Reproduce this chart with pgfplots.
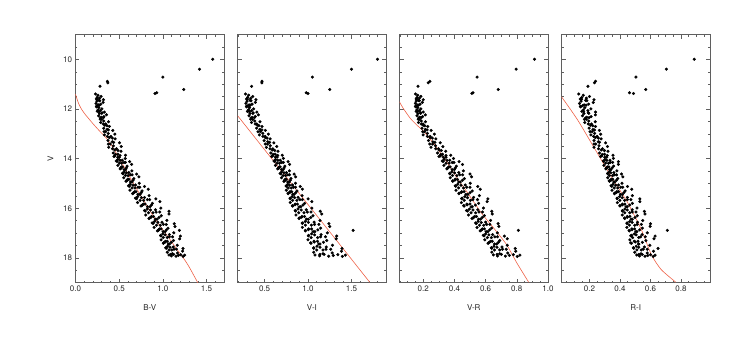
\documentclass[border=0pt]{standalone}
\usepackage{fontspec}
\setmainfont{TeX Gyre Heros}
\usepackage{pgfplots}
\usepackage{pgfplotstable}
\pgfplotsset{compat=1.18}
\definecolor{isored}{RGB}{238,98,72}
\definecolor{framegray}{RGB}{95,95,95}

% stars: V magnitude and the three colours
\pgfplotstableread{
V     BV    VI    VR    RI
9.99  1.570 1.800 0.913 0.887
10.39 1.420 1.500 0.796 0.704
10.71 1.000 1.050 0.545 0.505
11.21 1.240 1.250 0.681 0.569
11.34 0.930 0.980 0.519 0.463
11.37 0.910 1.000 0.512 0.489
10.88 0.365 0.470 0.243 0.240
10.94 0.370 0.468 0.232 0.233
11.08 0.280 0.350 0.167 0.190
16.89 1.190 1.520 0.810 0.710
11.39 0.230 0.280 0.150 0.130
11.44 0.257 0.316 0.165 0.160
11.49 0.293 0.364 0.185 0.200
11.53 0.248 0.304 0.160 0.150
11.56 0.275 0.340 0.175 0.180
11.59 0.239 0.292 0.155 0.140
11.62 0.320 0.400 0.200 0.230
11.65 0.271 0.333 0.170 0.175
11.68 0.244 0.297 0.155 0.145
11.73 0.316 0.393 0.195 0.225
11.77 0.235 0.285 0.150 0.135
11.80 0.289 0.357 0.180 0.195
11.83 0.262 0.321 0.165 0.165
11.86 0.253 0.309 0.160 0.155
11.89 0.240 0.290 0.150 0.140
11.94 0.267 0.326 0.165 0.170
11.99 0.303 0.374 0.185 0.210
12.03 0.258 0.314 0.160 0.160
12.06 0.285 0.350 0.175 0.190
12.09 0.249 0.302 0.155 0.150
12.12 0.330 0.410 0.200 0.240
12.15 0.305 0.368 0.184 0.192
12.18 0.275 0.332 0.166 0.164
12.23 0.355 0.428 0.214 0.239
12.27 0.265 0.320 0.160 0.155
12.30 0.325 0.392 0.196 0.211
12.33 0.295 0.356 0.178 0.183
12.36 0.285 0.344 0.172 0.174
12.41 0.301 0.362 0.176 0.179
12.48 0.323 0.386 0.187 0.196
12.54 0.290 0.350 0.170 0.170
12.60 0.345 0.410 0.198 0.213
12.51 0.378 0.446 0.214 0.238
12.65 0.336 0.420 0.200 0.207
12.70 0.388 0.470 0.229 0.240
12.77 0.323 0.408 0.192 0.198
12.82 0.362 0.445 0.214 0.223
12.86 0.427 0.508 0.251 0.265
12.91 0.345 0.453 0.209 0.218
12.98 0.375 0.479 0.227 0.234
13.04 0.330 0.440 0.200 0.210
13.10 0.405 0.505 0.245 0.250
13.01 0.450 0.544 0.272 0.274
13.15 0.388 0.508 0.244 0.239
13.20 0.454 0.564 0.281 0.277
13.27 0.372 0.494 0.234 0.230
13.32 0.421 0.536 0.262 0.258
13.36 0.504 0.606 0.309 0.306
13.41 0.398 0.535 0.260 0.241
13.48 0.434 0.565 0.279 0.263
13.54 0.380 0.520 0.250 0.230
13.60 0.470 0.595 0.298 0.285
13.51 0.524 0.640 0.326 0.318
13.65 0.450 0.588 0.302 0.277
13.70 0.520 0.654 0.345 0.321
13.77 0.433 0.572 0.291 0.266
13.82 0.485 0.621 0.323 0.299
13.86 0.573 0.704 0.377 0.354
13.89 0.450 0.590 0.310 0.280
13.94 0.501 0.644 0.346 0.313
13.99 0.569 0.716 0.394 0.357
14.03 0.484 0.626 0.334 0.302
14.06 0.535 0.680 0.370 0.335
14.09 0.467 0.608 0.322 0.291
14.12 0.620 0.770 0.430 0.390
14.15 0.555 0.697 0.386 0.337
14.18 0.503 0.643 0.346 0.306
14.23 0.643 0.787 0.452 0.390
14.27 0.485 0.625 0.333 0.295
14.30 0.590 0.733 0.412 0.358
14.33 0.538 0.679 0.373 0.327
14.36 0.520 0.661 0.359 0.316
14.39 0.520 0.660 0.355 0.310
14.44 0.574 0.714 0.399 0.340
14.49 0.646 0.786 0.457 0.380
14.53 0.556 0.696 0.384 0.330
14.56 0.610 0.750 0.428 0.360
14.59 0.538 0.678 0.370 0.320
14.62 0.700 0.840 0.500 0.410
14.65 0.630 0.767 0.434 0.364
14.68 0.572 0.713 0.388 0.331
14.73 0.726 0.857 0.510 0.419
14.77 0.553 0.695 0.373 0.320
14.80 0.668 0.803 0.464 0.386
14.83 0.611 0.749 0.419 0.353
14.86 0.591 0.731 0.403 0.342
14.89 0.585 0.730 0.390 0.330
14.94 0.647 0.784 0.438 0.366
14.99 0.729 0.856 0.502 0.414
15.03 0.626 0.766 0.422 0.354
15.06 0.688 0.820 0.470 0.390
15.09 0.606 0.748 0.406 0.342
15.12 0.790 0.910 0.550 0.450
15.15 0.716 0.832 0.479 0.405
15.18 0.646 0.771 0.427 0.362
15.23 0.832 0.935 0.566 0.477
15.27 0.623 0.750 0.410 0.348
15.30 0.762 0.873 0.514 0.434
15.33 0.693 0.812 0.462 0.391
15.36 0.669 0.791 0.445 0.377
15.39 0.660 0.770 0.430 0.365
15.44 0.738 0.839 0.486 0.415
15.49 0.842 0.931 0.560 0.481
15.53 0.712 0.816 0.467 0.398
15.56 0.790 0.885 0.523 0.448
15.59 0.686 0.793 0.449 0.382
15.62 0.920 1.000 0.615 0.530
15.65 0.824 0.905 0.518 0.448
15.68 0.739 0.823 0.463 0.399
15.73 0.967 1.043 0.610 0.530
15.77 0.710 0.795 0.445 0.383
15.80 0.881 0.960 0.555 0.481
15.83 0.796 0.878 0.500 0.432
15.86 0.767 0.850 0.482 0.416
15.89 0.760 0.820 0.460 0.400
15.94 0.853 0.916 0.514 0.448
15.99 0.977 1.044 0.586 0.512
16.03 0.822 0.884 0.496 0.432
16.06 0.915 0.980 0.550 0.480
16.09 0.791 0.852 0.478 0.416
16.12 1.070 1.140 0.640 0.560
16.15 0.923 0.992 0.558 0.481
16.18 0.835 0.893 0.507 0.432
16.23 1.071 1.157 0.643 0.564
16.27 0.805 0.860 0.490 0.415
16.30 0.982 1.058 0.592 0.514
16.33 0.894 0.959 0.541 0.465
16.36 0.864 0.926 0.524 0.448
16.39 0.850 0.900 0.520 0.430
16.44 0.934 1.002 0.568 0.481
16.49 1.046 1.138 0.632 0.549
16.53 0.906 0.968 0.552 0.464
16.56 0.990 1.070 0.600 0.515
16.59 0.878 0.934 0.536 0.447
16.62 1.130 1.240 0.680 0.600
16.65 1.006 1.075 0.607 0.513
16.68 0.927 0.970 0.561 0.462
16.73 1.139 1.250 0.685 0.598
16.77 0.900 0.935 0.545 0.445
16.80 1.059 1.145 0.638 0.547
16.83 0.980 1.040 0.592 0.496
16.86 0.953 1.005 0.576 0.479
16.89 0.950 0.970 0.570 0.460
16.94 1.025 1.078 0.615 0.511
16.99 1.125 1.222 0.675 0.579
17.03 1.000 1.042 0.600 0.494
17.06 1.075 1.150 0.645 0.545
17.09 0.975 1.006 0.585 0.477
17.12 1.200 1.330 0.720 0.630
17.15 1.074 1.144 0.659 0.535
17.18 1.004 1.036 0.611 0.483
17.23 1.192 1.324 0.739 0.623
17.27 0.980 1.000 0.595 0.465
17.30 1.121 1.216 0.691 0.570
17.33 1.051 1.108 0.643 0.518
17.36 1.027 1.072 0.627 0.500
17.39 1.010 1.030 0.620 0.470
17.44 1.076 1.138 0.671 0.524
17.49 1.164 1.282 0.739 0.596
17.53 1.054 1.102 0.654 0.506
17.56 1.120 1.210 0.705 0.560
17.59 1.032 1.066 0.637 0.488
17.62 1.230 1.390 0.790 0.650
17.65 1.128 1.207 0.708 0.552
17.68 1.070 1.101 0.657 0.511
17.73 1.226 1.385 0.793 0.620
17.77 1.050 1.065 0.640 0.497
17.80 1.167 1.278 0.742 0.579
17.83 1.109 1.172 0.691 0.538
17.86 1.089 1.136 0.674 0.524
17.88 1.070 1.080 0.650 0.510
17.92 1.097 1.133 0.676 0.528
17.86 1.124 1.185 0.701 0.546
17.93 1.151 1.238 0.727 0.564
17.90 1.178 1.290 0.752 0.582
17.87 1.205 1.343 0.778 0.600
17.94 1.232 1.395 0.803 0.618
17.89 1.250 1.430 0.820 0.630
11.60 0.246 0.301 0.158 0.148
11.66 0.278 0.343 0.175 0.183
11.84 0.274 0.336 0.170 0.178
11.91 0.242 0.294 0.153 0.143
12.10 0.267 0.323 0.163 0.162
12.17 0.300 0.365 0.183 0.196
12.34 0.320 0.383 0.188 0.198
12.41 0.283 0.341 0.168 0.167
12.60 0.318 0.391 0.187 0.193
12.67 0.360 0.434 0.210 0.222
12.84 0.376 0.469 0.225 0.233
12.91 0.327 0.424 0.197 0.204
13.10 0.366 0.480 0.226 0.228
13.17 0.421 0.528 0.258 0.259
13.34 0.437 0.558 0.275 0.266
13.41 0.376 0.507 0.242 0.230
13.60 0.424 0.561 0.280 0.259
13.67 0.486 0.616 0.316 0.298
13.83 0.458 0.598 0.312 0.284
13.87 0.510 0.650 0.346 0.317
13.91 0.441 0.581 0.301 0.273
13.94 0.484 0.624 0.329 0.301
14.07 0.511 0.653 0.353 0.314
14.11 0.476 0.617 0.328 0.293
14.15 0.571 0.716 0.397 0.352
14.18 0.528 0.671 0.366 0.325
14.33 0.529 0.670 0.365 0.318
14.37 0.582 0.724 0.406 0.349
14.41 0.511 0.651 0.351 0.308
14.44 0.556 0.697 0.386 0.333
14.57 0.583 0.723 0.401 0.341
14.61 0.546 0.687 0.371 0.320
14.65 0.648 0.786 0.453 0.378
14.68 0.602 0.741 0.416 0.352
14.83 0.599 0.740 0.405 0.342
14.87 0.658 0.794 0.452 0.377
14.91 0.579 0.722 0.389 0.331
14.94 0.629 0.767 0.428 0.360
15.07 0.659 0.788 0.442 0.372
15.11 0.615 0.750 0.408 0.346
15.15 0.735 0.856 0.500 0.418
15.18 0.680 0.807 0.458 0.385
15.33 0.678 0.793 0.447 0.380
15.37 0.752 0.858 0.501 0.426
15.41 0.654 0.771 0.429 0.364
15.44 0.715 0.825 0.474 0.403
15.57 0.753 0.846 0.484 0.415
15.61 0.699 0.795 0.447 0.382
15.65 0.849 0.934 0.548 0.472
15.68 0.780 0.871 0.502 0.431
15.83 0.780 0.852 0.480 0.416
15.87 0.869 0.941 0.534 0.464
15.91 0.750 0.822 0.462 0.400
15.94 0.824 0.897 0.507 0.440
16.07 0.858 0.921 0.519 0.448
16.11 0.798 0.856 0.484 0.416
16.15 0.964 1.035 0.580 0.505
16.18 0.888 0.954 0.536 0.464
16.33 0.871 0.930 0.530 0.448
16.37 0.957 1.031 0.579 0.498
16.41 0.842 0.897 0.513 0.431
16.44 0.914 0.981 0.555 0.473
16.57 0.943 1.004 0.572 0.480
16.61 0.889 0.935 0.540 0.446
16.65 1.039 1.125 0.627 0.540
16.68 0.970 1.038 0.588 0.497
16.83 0.964 1.006 0.580 0.478
16.87 1.041 1.112 0.626 0.529
16.91 0.938 0.970 0.565 0.461
16.94 1.002 1.059 0.603 0.504
17.07 1.026 1.075 0.621 0.506
17.11 0.977 1.003 0.590 0.471
17.15 1.111 1.201 0.676 0.566
17.18 1.050 1.111 0.637 0.523
17.33 1.029 1.069 0.632 0.494
17.37 1.097 1.177 0.682 0.547
17.41 1.006 1.033 0.616 0.476
17.44 1.063 1.123 0.657 0.521
17.57 1.082 1.137 0.673 0.523
17.61 1.040 1.065 0.639 0.491
17.65 1.155 1.262 0.732 0.579
17.68 1.103 1.173 0.690 0.539
}\stars

\pgfplotsset{
  cmdpanel/.style={
    scale only axis, width=148.5pt, height=248pt,
    y dir=reverse, ymin=9, ymax=19,
    ytick={10,12,14,16,18},
    minor ytick={9,9.5,10.5,11,11.5,12.5,13,13.5,14.5,15,15.5,16.5,17,17.5,18.5,19},
    axis line style={framegray, line width=0.6pt},
    every tick/.style={framegray, line width=0.5pt},
    major tick length=4pt, minor tick length=2pt,
    tick align=inside,
    font=\fontsize{8}{9.5}\selectfont,
    /pgf/number format/assume math mode=true,
    ticklabel style={black!85},
    label style={black!85},
    xticklabel style={/pgf/number format/.cd, fixed, fixed zerofill, precision=1},
    xlabel style={yshift=-6pt},
    ylabel style={at={(axis description cs:-0.168,0.5)}, anchor=center},
  },
  stars/.style={only marks, mark=*, mark size=1.35pt, black},
  iso/.style={isored, line width=0.6pt, smooth, tension=0.4},
}

\begin{document}
\begin{tikzpicture}
\path[use as bounding box] (0,0) rectangle (756pt,354pt);

% B-V
\begin{axis}[cmdpanel, at={(75.5pt,71.3pt)}, anchor=south west,
  xmin=0, xmax=1.70, xtick={0,0.5,1,1.5},
  minor xtick={0.1,0.2,0.3,0.4,0.6,0.7,0.8,0.9,1.1,1.2,1.3,1.4,1.6},
  ylabel={V}, xlabel={B-V}]
\addplot[iso] coordinates {(0.00,11.40) (0.02,11.62) (0.04,11.81) (0.07,12.01) (0.11,12.21) (0.16,12.42) (0.20,12.59) (0.28,12.90) (0.35,13.16) (0.42,13.50) (0.50,13.98) (0.60,14.60) (0.68,15.10) (0.78,15.68) (0.87,16.20) (0.96,16.68) (1.06,17.15) (1.15,17.60) (1.25,18.08) (1.31,18.42) (1.40,19.00)};
\addplot[stars] table[x=BV, y=V] {\stars};
\end{axis}

% V-I
\begin{axis}[cmdpanel, at={(237.7pt,71.3pt)}, anchor=south west,
  xmin=0.19, xmax=1.90, xtick={0.5,1,1.5},
  minor xtick={0.2,0.3,0.4,0.6,0.7,0.8,0.9,1.1,1.2,1.3,1.4,1.6,1.7,1.8},
  yticklabels={}, xlabel={V-I}]
\addplot[iso] coordinates {(0.19,12.27) (0.60,14.08) (1.00,15.85) (1.40,17.61) (1.71,18.98)};
\addplot[stars] table[x=VI, y=V] {\stars};
\end{axis}

% V-R
\begin{axis}[cmdpanel, at={(399.5pt,71.3pt)}, anchor=south west,
  xmin=0.048, xmax=1.0, xtick={0.2,0.4,0.6,0.8,1.0},
  minor xtick={0.05,0.1,0.15,0.25,0.3,0.35,0.45,0.5,0.55,0.65,0.7,0.75,0.85,0.9,0.95},
  yticklabels={}, xlabel={V-R}]
\addplot[iso] coordinates {(0.040,11.62) (0.070,11.95) (0.117,12.37) (0.160,12.65) (0.204,12.90) (0.28,13.50) (0.356,14.18) (0.42,14.80) (0.486,15.39) (0.573,16.19) (0.66,16.86) (0.735,17.47) (0.80,18.20) (0.876,18.98)};
\addplot[stars] table[x=VR, y=V] {\stars};
\end{axis}

% R-I
\begin{axis}[cmdpanel, at={(561.5pt,71.3pt)}, anchor=south west,
  xmin=0.017, xmax=0.99, xtick={0.2,0.4,0.6,0.8},
  minor xtick={0.05,0.1,0.15,0.25,0.3,0.35,0.45,0.5,0.55,0.65,0.7,0.75,0.85,0.9,0.95},
  yticklabels={}, xlabel={R-I}]
\addplot[iso] coordinates {(0.010,11.45) (0.025,11.57) (0.123,12.44) (0.233,13.58) (0.343,14.72) (0.452,15.79) (0.54,16.86) (0.606,17.87) (0.67,18.47) (0.766,18.98)};
\addplot[stars] table[x=RI, y=V] {\stars};
\end{axis}
\end{tikzpicture}
\end{document}
